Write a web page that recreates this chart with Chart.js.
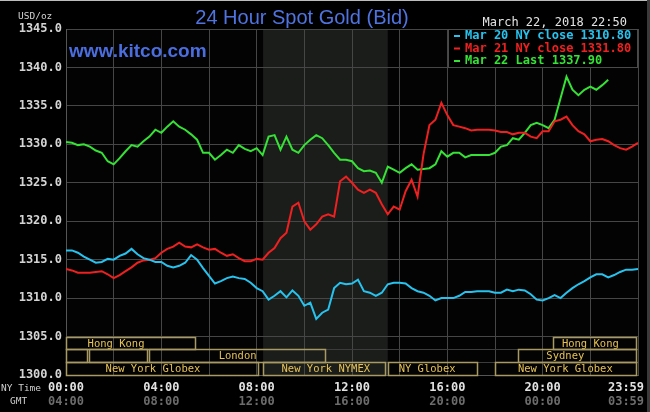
<!DOCTYPE html>
<html>
<head>
<meta charset="utf-8">
<title>24 Hour Spot Gold (Bid)</title>
<script src="https://cdn.jsdelivr.net/npm/chart.js@4.4.1/dist/chart.umd.min.js"></script>
<style>
  html, body { margin: 0; padding: 0; background: #000; }
  #wrap { width: 650px; height: 412px; }
</style>
</head>
<body>
<div id="wrap"><canvas id="goldChart" width="650" height="412"></canvas></div>
<script>
// 24 hour spot gold chart - three days of bid prices, NY time
// values sampled every 15 minutes from 00:00 (read off the kitco chart)

const chartTitle = '24 Hour Spot Gold (Bid)';
const siteName = 'www.kitco.com';
const stampText = 'March 22, 2018 22:50';
const unitText = 'USD/oz';

const seriesLabels = ['Mar 20 NY close 1310.80', 'Mar 21 NY close 1331.80', 'Mar 22 Last 1337.90'];
const seriesColors = ['#27c3ee', '#ee2020', '#35e235'];

// Mar 20 (blue)
const mar20Values = [
    1316.2, 1316.2, 1315.9, 1315.4, 1315.0, 1314.6, 1314.7, 1315.1,
    1315.0, 1315.5, 1315.8, 1316.4, 1315.7, 1315.2, 1315.0, 1314.7,
    1314.7, 1314.2, 1314.0, 1314.2, 1314.6, 1315.6, 1315.0, 1313.9,
    1312.9, 1311.9, 1312.2, 1312.6, 1312.8, 1312.6, 1312.5, 1312.0,
    1311.3, 1310.9, 1309.8, 1310.3, 1310.9, 1310.1, 1311.0, 1310.3,
    1309.0, 1309.4, 1307.3, 1308.1, 1308.5, 1311.3, 1312.0, 1311.8,
    1311.9, 1312.4, 1310.9, 1310.7, 1310.3, 1310.7, 1311.8, 1312.0,
    1312.0, 1311.9, 1311.3, 1310.9, 1310.7, 1310.3, 1309.7, 1310.0,
    1310.0, 1310.0, 1310.3, 1310.8, 1310.8, 1310.9, 1310.9, 1310.9,
    1310.7, 1310.7, 1311.1, 1310.9, 1311.1, 1311.0, 1310.5, 1309.8,
    1309.7, 1310.0, 1310.4, 1310.0, 1310.7, 1311.3, 1311.8, 1312.2,
    1312.7, 1313.1, 1313.1, 1312.7, 1313.0, 1313.4, 1313.7, 1313.7,
    1313.8
];

// Mar 21 (red)
const mar21Values = [
    1313.8, 1313.6, 1313.3, 1313.3, 1313.3, 1313.4, 1313.5, 1313.1,
    1312.6, 1313.0, 1313.5, 1314.0, 1314.6, 1314.9, 1315.0, 1315.2,
    1315.9, 1316.4, 1316.7, 1317.2, 1316.7, 1316.6, 1317.0, 1316.6,
    1316.3, 1316.4, 1315.9, 1315.5, 1315.7, 1315.2, 1314.8, 1314.8,
    1315.1, 1315.0, 1315.9, 1316.5, 1317.8, 1318.5, 1321.9, 1322.4,
    1320.0, 1318.9, 1319.6, 1320.6, 1320.9, 1320.6, 1325.2, 1325.8,
    1325.0, 1324.1, 1323.7, 1324.1, 1323.7, 1322.2, 1320.9, 1321.9,
    1321.5, 1323.9, 1325.4, 1323.2, 1328.7, 1332.5, 1333.2, 1335.4,
    1333.8, 1332.5, 1332.3, 1332.1, 1331.8, 1331.9, 1331.9, 1331.9,
    1331.8, 1331.6, 1331.6, 1331.3, 1331.5, 1331.5, 1331.0, 1330.8,
    1331.7, 1331.7, 1333.0, 1333.2, 1333.6, 1332.5, 1331.7, 1331.3,
    1330.4, 1330.6, 1330.7, 1330.4, 1329.9, 1329.5, 1329.3, 1329.7,
    1330.2
];

// Mar 22 (green), runs up to 22:45
const mar22Values = [
    1330.3, 1330.2, 1329.9, 1330.0, 1329.7, 1329.2, 1328.9, 1327.8,
    1327.4, 1328.2, 1329.1, 1329.9, 1329.7, 1330.4, 1331.0, 1331.9,
    1331.5, 1332.3, 1333.0, 1332.3, 1331.9, 1331.3, 1330.6, 1328.9,
    1328.9, 1328.0, 1328.6, 1329.3, 1328.9, 1329.9, 1329.4, 1329.1,
    1329.5, 1328.6, 1331.0, 1331.2, 1329.3, 1331.0, 1329.3, 1328.9,
    1329.9, 1330.6, 1331.2, 1330.8, 1329.9, 1328.9, 1328.0, 1328.0,
    1327.8, 1326.9, 1326.5, 1326.6, 1326.3, 1325.0, 1327.1, 1326.7,
    1326.3, 1326.9, 1327.4, 1326.7, 1326.8, 1326.9, 1327.4, 1329.1,
    1328.4, 1328.9, 1328.9, 1328.3, 1328.6, 1328.6, 1328.6, 1328.6,
    1328.9, 1329.7, 1329.9, 1330.8, 1330.6, 1331.5, 1332.5, 1332.8,
    1332.5, 1332.1, 1333.2, 1336.0, 1338.8, 1337.1, 1336.4, 1337.1,
    1337.5, 1337.1, 1337.7, 1338.4
];

// axis
const yMin = 1300, yMax = 1345, yStep = 5;
const tickHours = [0, 4, 8, 12, 16, 20, 24];
const nyTimeLabels = ['00:00', '04:00', '08:00', '12:00', '16:00', '20:00', '23:59'];
const gmtLabels = ['04:00', '08:00', '12:00', '16:00', '20:00', '00:00', '03:59'];

// NYMEX pit session (shaded)
const nymexStart = 8.27, nymexEnd = 13.5;

// market session boxes along the bottom (hours NY time, row 0 = top)
const sessionNames  = ['Hong Kong', 'Hong Kong', '', '', 'London', 'Sydney', 'New York Globex', 'New York NYMEX', 'NY Globex', 'New York Globex'];
const sessionRows   = [0, 0, 1, 1, 1, 1, 2, 2, 2, 2];
const sessionStarts = [0, 20.45, 0, 0.95, 3.47, 18.97, 0, 8.27, 13.52, 18.0];
const sessionEnds   = [5.48, 24, 0.95, 3.47, 10.95, 24, 8.13, 13.45, 17.33, 24];
const sessionTextAt = [2.1, 22.0, null, null, 7.2, 20.95, 3.65, 10.9, 15.15, 20.95];

// build the 15 minute time stamps
const times = [];
for (let i = 0; i < mar20Values.length; i++) {
    times.push(i / 4);
}

function toPoints(values) {
    return values.map((v, i) => ({ x: times[i], y: v }));
}

const MONO = '"DejaVu Sans Mono", "Liberation Mono", monospace';

/**
 * background, shading, sessions, texts, legend
 */
const kitcoPlugin = {
    id: 'kitcoDecor',
    beforeDraw(chart) {
        const ctx = chart.ctx;
        const area = chart.chartArea;
        const xs = chart.scales.x;
        ctx.save();
        ctx.fillStyle = '#000';
        ctx.fillRect(0, 0, chart.width, chart.height);
        ctx.fillStyle = '#030303';
        ctx.fillRect(area.left, area.top, area.right - area.left, area.bottom - area.top);
        // NYMEX shading
        const sx = xs.getPixelForValue(nymexStart);
        const ex = xs.getPixelForValue(nymexEnd);
        ctx.fillStyle = '#1b1d1b';
        ctx.fillRect(sx, area.top, ex - sx, area.bottom - area.top);
        // thin frame at top / right of the picture
        ctx.fillStyle = '#bdbdbd';
        ctx.fillRect(0, 0, chart.width, 1);
        ctx.fillStyle = '#3a3a3a';
        ctx.fillRect(chart.width - 3, 0, 3, chart.height);
        ctx.restore();
    },
    afterDatasetsDraw(chart) {
        const ctx = chart.ctx;
        const area = chart.chartArea;
        const xs = chart.scales.x;
        const ys = chart.scales.y;
        const rowH = yStep / 3;
        ctx.save();

        // row separators
        ctx.strokeStyle = '#3c3c3c';
        ctx.lineWidth = 1;
        for (let r = 1; r < 3; r++) {
            const y = Math.round(ys.getPixelForValue(yMin + yStep - r * rowH)) + 0.5;
            ctx.beginPath();
            ctx.moveTo(area.left, y);
            ctx.lineTo(area.right, y);
            ctx.stroke();
        }

        // session boxes
        ctx.font = '10.5px ' + MONO;
        ctx.textAlign = 'center';
        ctx.textBaseline = 'middle';
        for (let i = 0; i < sessionNames.length; i++) {
            const x1 = Math.round(xs.getPixelForValue(sessionStarts[i])) + 0.5;
            const x2 = Math.round(xs.getPixelForValue(sessionEnds[i])) - 1.5;
            const top = yMin + yStep - sessionRows[i] * rowH;
            const y1 = Math.round(ys.getPixelForValue(top)) + 0.5;
            const y2 = Math.round(ys.getPixelForValue(top - rowH)) + 0.5;
            ctx.strokeStyle = '#a99a64';
            ctx.lineWidth = 1.5;
            ctx.strokeRect(x1, y1, x2 - x1, y2 - y1);
            if (sessionNames[i]) {
                ctx.fillStyle = '#e6c255';
                const tx = xs.getPixelForValue(sessionTextAt[i]);
                ctx.fillText(sessionNames[i], tx, (y1 + y2) / 2 + 0.5);
            }
        }
        ctx.restore();
    },
    afterDraw(chart) {
        const ctx = chart.ctx;
        const area = chart.chartArea;
        const xs = chart.scales.x;
        ctx.save();

        // title + site
        ctx.textBaseline = 'alphabetic';
        ctx.textAlign = 'center';
        ctx.fillStyle = '#4f74e2';
        ctx.font = '20px "Liberation Sans", Arial, sans-serif';
        ctx.fillText(chartTitle, 302, 24);
        ctx.textAlign = 'left';
        ctx.fillStyle = '#4a6ee0';
        ctx.font = 'bold 19px "Liberation Sans", Arial, sans-serif';
        ctx.fillText(siteName, 69, 57);

        // unit + date stamp
        ctx.fillStyle = '#d2d2d2';
        ctx.font = '9.5px ' + MONO;
        ctx.fillText(unitText, 18, 19);
        ctx.fillStyle = '#e4e4e4';
        ctx.font = '12px ' + MONO;
        ctx.textAlign = 'right';
        ctx.fillText(stampText, 627, 26);

        // legend box
        const lx = 448, ly = area.top, lw = area.right - 448, lh = 39;
        ctx.fillStyle = '#000';
        ctx.fillRect(lx, ly, lw, lh);
        ctx.strokeStyle = '#4a4a4a';
        ctx.lineWidth = 1;
        ctx.strokeRect(lx + 0.5, ly + 0.5, lw - 1, lh - 1);
        ctx.textAlign = 'left';
        ctx.textBaseline = 'middle';
        ctx.font = 'bold 12px ' + MONO;
        chart.data.datasets.forEach((ds, i) => {
            const y = ly + 7 + i * 12.5;
            ctx.fillStyle = ds.borderColor;
            ctx.fillRect(lx + 6, y - 1, 6, 2);
            ctx.fillText(ds.label, lx + 17, y);
        });

        // time axis labels (NY + GMT)
        ctx.textBaseline = 'middle';
        ctx.font = '9.5px ' + MONO;
        ctx.fillStyle = '#cfcfcf';
        ctx.textAlign = 'left';
        ctx.fillText('NY Time', 1, 389);
        ctx.fillText('GMT', 10, 402);
        ctx.font = 'bold 12px ' + MONO;
        ctx.textAlign = 'center';
        tickHours.forEach((h, i) => {
            let px = xs.getPixelForValue(h);
            if (i === tickHours.length - 1) px -= 12;
            ctx.fillStyle = '#e2e2e2';
            ctx.fillText(nyTimeLabels[i], px, 388);
            ctx.fillStyle = '#6c6c6c';
            ctx.fillText(gmtLabels[i], px, 402);
        });
        ctx.restore();
    }
};

const goldChart = new Chart(document.getElementById('goldChart').getContext('2d'), {
    type: 'line',
    data: {
        datasets: [mar20Values, mar21Values, mar22Values].map((vals, i) => ({
            label: seriesLabels[i],
            data: toPoints(vals),
            borderColor: seriesColors[i],
            borderWidth: 2,
            pointRadius: 0,
            tension: 0,
            fill: false
        }))
    },
    options: {
        responsive: false,
        animation: false,
        devicePixelRatio: 1,
        layout: {
            padding: { top: 29, right: 12, left: 0, bottom: 0 }
        },
        plugins: {
            legend: { display: false },
            tooltip: { enabled: false },
            title: { display: false }
        },
        scales: {
            x: {
                type: 'linear',
                min: 0,
                max: 24,
                ticks: { stepSize: 2, display: false },
                grid: { color: '#464646', lineWidth: 1, drawTicks: false },
                border: { color: '#555', width: 1 },
                afterFit(scale) { scale.height = 37; }
            },
            y: {
                min: yMin,
                max: yMax,
                ticks: {
                    stepSize: yStep,
                    padding: 4,
                    color: '#d4d4d4',
                    font: { family: MONO, size: 12, weight: 'bold' },
                    callback: v => v.toFixed(1)
                },
                grid: { color: '#464646', lineWidth: 1, drawTicks: false },
                border: { color: '#555', width: 1 },
                afterFit(scale) { scale.width = 66; }
            }
        }
    },
    plugins: [kitcoPlugin]
});
</script>
</body>
</html>
